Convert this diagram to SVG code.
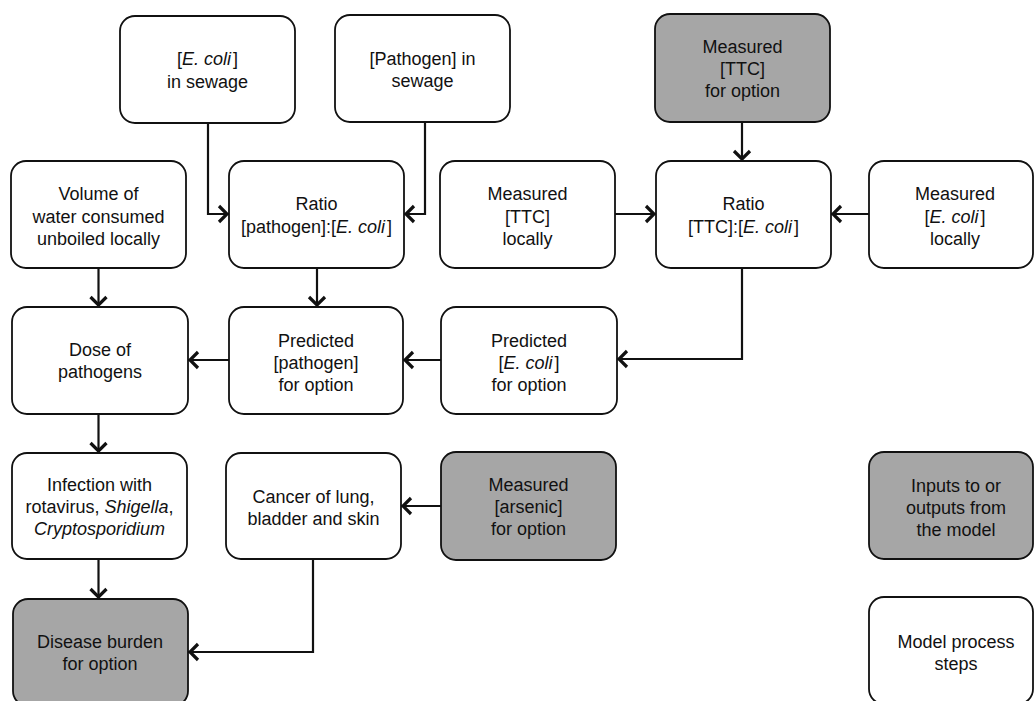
<svg xmlns="http://www.w3.org/2000/svg" width="1034" height="701" viewBox="0 0 1034 701">
<defs>
<style>
.box{fill:#ffffff;stroke:#111111;stroke-width:1.8}
.in{fill:#a6a6a6;stroke:#111111;stroke-width:1.8}
text{font-family:"Liberation Sans",Arial,sans-serif;font-size:18px;fill:#111111;text-anchor:middle}
.i{font-style:italic}
.c{fill:none;stroke:#111111;stroke-width:2.2;marker-end:url(#ah)}
</style>
<marker id="ah" markerUnits="userSpaceOnUse" markerWidth="20" markerHeight="20" refX="0" refY="0" orient="auto" overflow="visible">
<path d="M-10,-8 L-2,0 L-10,8" fill="none" stroke="#111111" stroke-width="3.2" stroke-linejoin="miter"/>
</marker>
</defs>
<rect width="1034" height="701" fill="#ffffff"/>

<g id="connectors">
<path class="c" d="M208,123 V214 H229"/>
<path class="c" d="M425,122 V214 H404"/>
<path class="c" d="M98.5,268 V307"/>
<path class="c" d="M317,268 V307"/>
<path class="c" d="M742,122 V161"/>
<path class="c" d="M615,214 H656"/>
<path class="c" d="M869,214 H831"/>
<path class="c" d="M742,268 V359 H617"/>
<path class="c" d="M441,360 H403"/>
<path class="c" d="M229,360 H188"/>
<path class="c" d="M98.5,414 V453"/>
<path class="c" d="M441,506 H401"/>
<path class="c" d="M98.5,559 V599"/>
<path class="c" d="M313,559 V652 H188"/>
</g>

<g id="ecoli-sewage">
<rect class="box" x="120" y="16" width="175" height="107" rx="15"/>
<text x="207.5" y="65">[<tspan class="i">E. coli</tspan><tspan dx="2">]</tspan></text>
<text x="207.5" y="88">in sewage</text>
</g>

<g id="pathogen-sewage">
<rect class="box" x="335" y="15" width="175" height="107" rx="15"/>
<text x="422.5" y="65">[Pathogen] in</text>
<text x="422.5" y="87">sewage</text>
</g>

<g id="ttc-option">
<rect class="in" x="655" y="14" width="175" height="108" rx="15"/>
<text x="742.5" y="53">Measured</text>
<text x="742.5" y="75">[TTC]</text>
<text x="742.5" y="97">for option</text>
</g>

<g id="volume">
<rect class="box" x="11" y="161" width="175" height="107" rx="15"/>
<text x="98.5" y="200">Volume of</text>
<text x="98.5" y="223">water consumed</text>
<text x="98.5" y="245">unboiled locally</text>
</g>

<g id="ratio-pathogen">
<rect class="box" x="229" y="161" width="175" height="107" rx="15"/>
<text x="316.5" y="210">Ratio</text>
<text x="316.5" y="233">[pathogen]:[<tspan class="i">E. coli</tspan><tspan dx="2">]</tspan></text>
</g>

<g id="ttc-locally">
<rect class="box" x="440" y="161" width="175" height="107" rx="15"/>
<text x="527.5" y="200">Measured</text>
<text x="527.5" y="223">[TTC]</text>
<text x="527.5" y="245">locally</text>
</g>

<g id="ratio-ttc">
<rect class="box" x="656" y="161" width="175" height="107" rx="15"/>
<text x="743.5" y="210">Ratio</text>
<text x="743.5" y="233">[TTC]:[<tspan class="i">E. coli</tspan><tspan dx="2">]</tspan></text>
</g>

<g id="ecoli-locally">
<rect class="box" x="869" y="161" width="164" height="107" rx="15"/>
<text x="955" y="200">Measured</text>
<text x="955" y="223">[<tspan class="i">E. coli</tspan><tspan dx="2">]</tspan></text>
<text x="955" y="245">locally</text>
</g>

<g id="dose">
<rect class="box" x="12" y="307" width="176" height="107" rx="15"/>
<text x="100" y="356">Dose of</text>
<text x="100" y="378">pathogens</text>
</g>

<g id="predicted-pathogen">
<rect class="box" x="229" y="307" width="174" height="107" rx="15"/>
<text x="316" y="347">Predicted</text>
<text x="316" y="369">[pathogen]</text>
<text x="316" y="391">for option</text>
</g>

<g id="predicted-ecoli">
<rect class="box" x="441" y="307" width="176" height="107" rx="15"/>
<text x="529" y="347">Predicted</text>
<text x="529" y="369">[<tspan class="i">E. coli</tspan><tspan dx="2">]</tspan></text>
<text x="529" y="391">for option</text>
</g>

<g id="infection">
<rect class="box" x="12" y="453" width="175" height="106" rx="15"/>
<text x="99.5" y="491">Infection with</text>
<text x="99.5" y="513">rotavirus, <tspan class="i">Shigella</tspan>,</text>
<text x="99.5" y="535" class="i">Cryptosporidium</text>
</g>

<g id="cancer">
<rect class="box" x="226" y="453" width="175" height="106" rx="15"/>
<text x="313.5" y="503">Cancer of lung,</text>
<text x="313.5" y="525">bladder and skin</text>
</g>

<g id="arsenic">
<rect class="in" x="441" y="452" width="175" height="108" rx="15"/>
<text x="528.5" y="491">Measured</text>
<text x="528.5" y="513">[arsenic]</text>
<text x="528.5" y="535">for option</text>
</g>

<g id="legend-inputs">
<rect class="in" x="869" y="452" width="164" height="107" rx="15"/>
<text x="956" y="492">Inputs to or</text>
<text x="956" y="514">outputs from</text>
<text x="956" y="536">the model</text>
</g>

<g id="disease-burden">
<rect class="in" x="13" y="599" width="175" height="107" rx="15"/>
<text x="100" y="648">Disease burden</text>
<text x="100" y="670">for option</text>
</g>

<g id="legend-process">
<rect class="box" x="869" y="597" width="164" height="107" rx="15"/>
<text x="956" y="648">Model process</text>
<text x="956" y="670">steps</text>
</g>
</svg>
